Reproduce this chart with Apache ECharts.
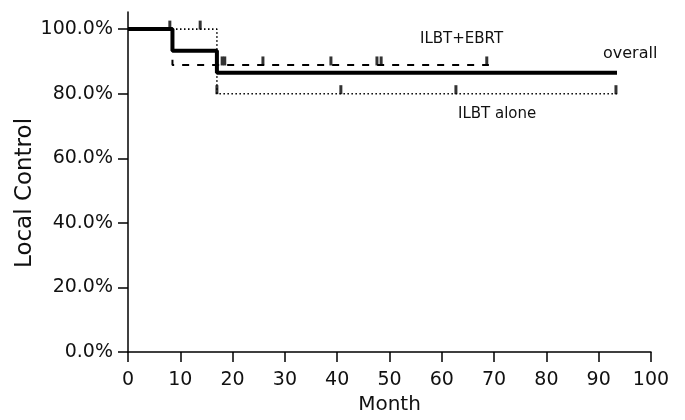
<!DOCTYPE html>
<html>
<head>
<meta charset="utf-8">
<script src="https://cdn.jsdelivr.net/npm/echarts@6/dist/echarts.min.js"></script>
<style>
  html, body { margin: 0; padding: 0; background: #fff; }
  #chart { width: 685px; height: 420px; }
</style>
</head>
<body>
<div id="chart"></div>
<script>
// Kaplan-Meier curves (month, local control %)
const overallMonths = [0, 8.5, 17, 93.5];
const overallValues = [100, 93.3, 86.5, 86.5];
const ebrtMonths = [0, 8.5, 69];
const ebrtValues = [100, 88.9, 88.9];
const aloneMonths = [0, 17, 93.5];
const aloneValues = [100, 80, 80];

// censor marks
const ebrtCensorMonths = [8, 18, 18.5, 25.8, 38.8, 47.6, 48.4, 68.6];
const ebrtCensorValues = [100, 88.9, 88.9, 88.9, 88.9, 88.9, 88.9, 88.9];
const aloneCensorMonths = [13.8, 17, 40.7, 62.7, 93.3];
const aloneCensorValues = [100, 80, 80, 80, 80];

const yTicks = [0, 20, 40, 60, 80, 100];

const zip = (a, b) => a.map((v, i) => [v, b[i]]);
const font = "'DejaVu Sans', sans-serif";

const chart = echarts.init(document.getElementById("chart"));

const censorSeries = (data) => ({
  type: "scatter",
  data: data,
  symbol: "rect",
  symbolSize: [3, 9],
  symbolOffset: [0, -4],
  itemStyle: { color: "#000" },
  silent: true,
  z: 5,
});

chart.setOption({
  animation: false,
  grid: { left: 128, right: 34, top: 12, bottom: 68 },
  xAxis: {
    type: "value",
    min: 0,
    max: 100,
    interval: 10,
    name: "Month",
    nameLocation: "middle",
    nameGap: 42,
    nameTextStyle: { color: "#111", fontSize: 20, fontFamily: font },
    axisLine: { lineStyle: { color: "#000", width: 1.5 } },
    axisTick: { length: 10, lineStyle: { color: "#000", width: 1.5 } },
    axisLabel: { color: "#111", fontSize: 19, fontFamily: font, margin: 19 },
    splitLine: { show: false },
  },
  yAxis: {
    type: "value",
    min: 0,
    max: 105.3,
    axisLine: { show: true, lineStyle: { color: "#000", width: 1.5 } },
    axisTick: { show: true, length: 10, customValues: yTicks, lineStyle: { color: "#000", width: 1.5 } },
    axisLabel: {
      color: "#111",
      fontSize: 19,
      fontFamily: font,
      margin: 15,
      customValues: yTicks,
      formatter: (v) => v.toFixed(1) + "%",
    },
    splitLine: { show: false },
  },
  series: [
    {
      type: "line",
      step: "end",
      data: zip(aloneMonths, aloneValues),
      showSymbol: false,
      lineStyle: { color: "#000", width: 1.6, type: [1.5, 2.5] },
      silent: true,
      z: 2,
    },
    {
      type: "line",
      step: "end",
      data: zip(ebrtMonths, ebrtValues),
      showSymbol: false,
      lineStyle: { color: "#000", width: 2, type: [7, 8] },
      silent: true,
      z: 3,
    },
    {
      type: "line",
      step: "end",
      data: zip(overallMonths, overallValues),
      showSymbol: false,
      lineStyle: { color: "#000", width: 4 },
      silent: true,
      z: 4,
    },
    censorSeries(zip(ebrtCensorMonths, ebrtCensorValues)),
    censorSeries(zip(aloneCensorMonths, aloneCensorValues)),
  ],
  graphic: [
    {
      type: "text", x: 25, y: 193, rotation: Math.PI / 2,
      style: { text: "Local Control", font: "23px " + font, fill: "#111", align: "center", verticalAlign: "middle" },
    },
    { type: "text", x: 420, y: 39, style: { text: "ILBT+EBRT", font: "15px " + font, fill: "#111", verticalAlign: "middle" } },
    { type: "text", x: 603, y: 54, style: { text: "overall", font: "16px " + font, fill: "#111", verticalAlign: "middle" } },
    { type: "text", x: 458, y: 114, style: { text: "ILBT alone", font: "15px " + font, fill: "#111", verticalAlign: "middle" } },
  ],
});
</script>
</body>
</html>
